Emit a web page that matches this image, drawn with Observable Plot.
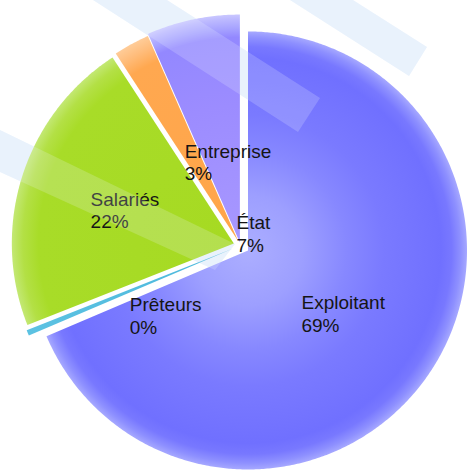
<!DOCTYPE html>
<html>
<head>
<meta charset="utf-8">
<script src="https://cdn.jsdelivr.net/npm/d3@7"></script>
<script src="https://cdn.jsdelivr.net/npm/@observablehq/plot@0.6"></script>
<style>
  html, body { margin: 0; padding: 0; background: #fff; }
  #wrap { position: relative; width: 471px; height: 470px; overflow: hidden; background: #fff; }
  #wrap svg { display: block; position: relative; }
  .band { position: absolute; left: 0; top: 0; width: 471px; height: 470px; pointer-events: none; }
  .under { background: #e8f2fc; }
  .over { background: rgba(238, 246, 255, 0.2); }
</style>
</head>
<body>
<div id="wrap"></div>
<script>
// ---- data ----
const categories = ["Exploitant", "Prêteurs", "Salariés", "Entreprise", "État"];
const shares = [68.6, 0.4, 21.8, 2.6, 6.6];

// ---- style / layout ----
const gradientStops = [
  [[0, "#acaeff"], [0.25, "#9d9fff"], [0.45, "#8788ff"], [0.62, "#7a7aff"], [0.88, "#7070ff"], [0.93, "#7878ff"], [0.97, "#8e90ff"], [1, "#a6a8ff"]],
  [[0, "#4cb8dc"], [1, "#5cc2e2"]],
  [[0, "#a6da22"], [0.88, "#a8dc28"], [0.95, "#b3e045"], [1, "#c3e874"]],
  [[0, "#ffa548"], [0.88, "#ffa850"], [0.95, "#ffbd7c"], [1, "#ffcc98"]],
  [[0, "#a898ff"], [0.6, "#9c8cff"], [0.9, "#9388ff"], [0.94, "#a7a3ff"], [0.98, "#bcb9ff"], [1, "#c9c7ff"]]
];
const explode = [9, 8, 7, 5, 3];        // px offset of each slice
const radius = [219, 222, 222, 224, 228]; // px outer radius of each slice
const labelNudge = [[-47, -15], [9.6, -38.6], [-26.9, -22], [5.2, -47.7], [22.4, -132.4]];

const W = 471, H = 470;
const pie = d3.pie().sort(null).value(d => d).startAngle(0).endAngle(2 * Math.PI)(shares);

const slices = pie.map((p, i) => {
  const m = (p.startAngle + p.endAngle) / 2;
  const ax = explode[i] * Math.sin(m), ay = explode[i] * Math.cos(m);
  const R = radius[i];
  const n = Math.max(2, Math.ceil((p.endAngle - p.startAngle) / (Math.PI / 360)));
  const pts = [{x: ax, y: ay}];
  for (let k = 0; k <= n; ++k) {
    const t = p.startAngle + (p.endAngle - p.startAngle) * k / n;
    pts.push({x: ax + R * Math.sin(t), y: ay + R * Math.cos(t)});
  }
  pts.push({x: ax, y: ay});
  const cr = 0.55 * R;
  return {
    name: categories[i], value: shares[i], pts, ax, ay, R,
    lx: ax + cr * Math.sin(m) + labelNudge[i][0],
    ly: ay + cr * Math.cos(m) + labelNudge[i][1],
    label: categories[i] + "\n" + Math.round(shares[i]) + "%"
  };
});

const plot = Plot.plot({
  width: W, height: H,
  marginTop: 0, marginRight: 0, marginBottom: 0, marginLeft: 0,
  x: {domain: [-240, 231], axis: null},
  y: {domain: [-225, 245], axis: null},
  style: {background: "transparent", overflow: "visible"},
  marks: [
    ...slices.map((s, i) => Plot.line(s.pts, {x: "x", y: "y", fill: `url(#pie-g${i})`, stroke: "none"})),
    Plot.text(slices, {
      x: "lx", y: "ly", text: "label",
      textAnchor: "start", lineAnchor: "bottom", lineHeight: 1.2,
      fontSize: 19, fontFamily: "'Liberation Sans', Arial, sans-serif", fill: "#151515"
    })
  ]
});

// gradients positioned through the plot's own scales
const sx = plot.scale("x"), sy = plot.scale("y");
const defs = d3.select(plot).insert("defs", ":first-child");
slices.forEach((s, i) => {
  const g = defs.append("radialGradient")
    .attr("id", `pie-g${i}`)
    .attr("gradientUnits", "userSpaceOnUse")
    .attr("cx", sx.apply(s.ax)).attr("cy", sy.apply(s.ay))
    .attr("r", s.R);
  gradientStops[i].forEach(([o, c]) => g.append("stop").attr("offset", o).attr("stop-color", c));
});

const wrap = document.getElementById("wrap");

// faint watermark bands: under the chart (visible on white) and a soft veil over it
const bands = [
  "polygon(93px 0px, 167px 0px, 320px 98px, 298px 132px)",
  "polygon(290px 0px, 353px 0px, 427px 47px, 409px 76px)",
  "polygon(0px 130px, 235px 244px, 215px 270px, 0px 172px)"
];
function addBands(cls) {
  bands.forEach(cp => {
    const d = document.createElement("div");
    d.className = "band " + cls;
    d.style.clipPath = cp;
    wrap.appendChild(d);
  });
}
addBands("under");
wrap.appendChild(plot);
addBands("over");
</script>
</body>
</html>
